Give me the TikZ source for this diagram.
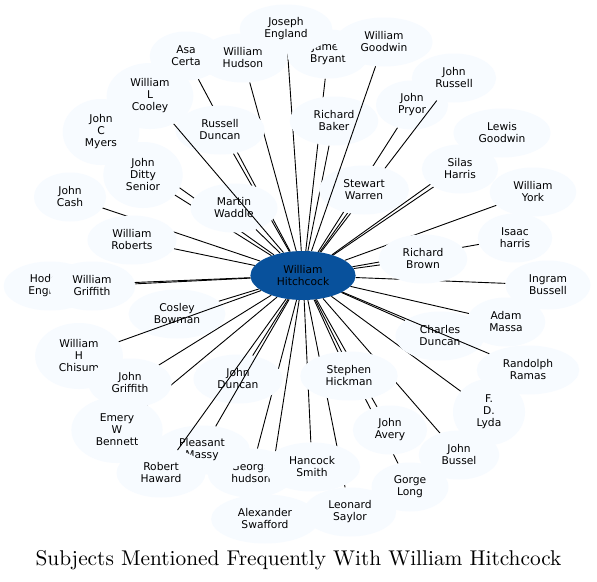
\documentclass[tikz,border=0pt]{standalone}
\usepackage{fontspec}
\newfontfamily\dejavu{DejaVu Sans}
\newfontfamily\titlefont{lmroman10-regular.otf}
\usetikzlibrary{shapes.geometric}
\definecolor{nodefill}{HTML}{F7FBFF}
\definecolor{hubfill}{HTML}{08519C}
\tikzset{
  nd/.style={ellipse, inner xsep=11pt, inner ysep=0pt, minimum width=72pt,
    minimum height=49pt, align=center, font=\dejavu\fontsize{10.7}{12}\selectfont},
  three/.style={minimum height=66pt},
  edge/.style={draw=black, line width=0.9pt},
}
\newcommand\Nd[4][]{%
  \expandafter\gdef\csname ntxt#2\endcsname{#4}%
  \tikzset{nsty#2/.style={#1}}%
  \node[nd,#1,text opacity=0] (#2) at (#3) {#4};}
\newcommand\Vis[1]{\node[nd,fill=nodefill,nsty#1] at (#1) {\csname ntxt#1\endcsname};}
\begin{document}
\begin{tikzpicture}[x=1pt,y=-1pt]
\fill[white] (0,0) rectangle (597,581);
\useasboundingbox (0,0) rectangle (597,581);
% phantom nodes (named, for clipping)
\Nd{c}{303,275.5}{William\\Hitchcock}
\Nd{je}{286,29}{Joseph\\England}
\Nd{wg}{384,42}{William\\Goodwin}
\Nd{jb}{328,54}{James\\Bryant}
\Nd{ac}{186,56}{Asa\\Certa}
\Nd{wh}{243,58}{William\\Hudson}
\Nd{jr}{454,78}{John\\Russell}
\Nd[three]{wlc}{150,96}{William\\L\\Cooley}
\Nd{jp}{412,105}{John\\Pryor}
\Nd[three]{jcm}{101,132}{John\\C\\Myers}
\Nd{rb}{334,121}{Richard\\Baker}
\Nd{rd}{220,130}{Russell\\Duncan}
\Nd{lg}{502,133}{Lewis\\Goodwin}
\Nd[three]{jds}{143,175}{John\\Ditty\\Senior}
\Nd{sh}{460,169}{Silas\\Harris}
\Nd{sw}{364,190}{Stewart\\Warren}
\Nd{wy}{533,192}{William\\York}
\Nd{jc}{70,197}{John\\Cash}
\Nd{mw}{234,208}{Martin\\Waddle}
\Nd{wr}{132,240}{William\\Roberts}
\Nd{ih}{515,238}{Isaac\\harris}
\Nd{rbr}{423,259}{Richard\\Brown}
\Nd{he}{50,286}{Hodges\\England}
\Nd{wgr}{92,286}{William\\Griffith}
\Nd{ib}{548,285}{Ingram\\Bussell}
\Nd{cb}{177,314}{Cosley\\Bowman}
\Nd{am}{506,322}{Adam\\Massa}
\Nd{cd}{440,336}{Charles\\Duncan}
\Nd[three]{whc}{79,356}{William\\H\\Chisum}
\Nd{rr}{528,370}{Randolph\\Ramas}
\Nd{shi}{349,376}{Stephen\\Hickman}
\Nd{jdu}{238,379}{John\\Duncan}
\Nd{jg}{130,383}{John\\Griffith}
\Nd[three]{fdl}{489,412}{F.\\D.\\Lyda}
\Nd[three]{ewb}{117,430}{Emery\\W\\Bennett}
\Nd{ja}{390,430}{John\\Avery}
\Nd{pm}{202,450}{Pleasant\\Massy}
\Nd{jbu}{459,455}{John\\Bussel}
\Nd{hs}{312,467}{Hancock\\Smith}
\Nd{gh}{251,473}{George\\hudson}
\Nd{rha}{161,473}{Robert\\Haward}
\Nd{gl}{410,487}{Gorge\\Long}
\Nd{ls}{350,512}{Leonard\\Saylor}
\Nd{as}{265,519}{Alexander\\Swafford}
% edges lying under the nodes
\foreach \n in {je,jb,ac,wh,jp,jcm,rb,rd,lg,jds,sh,sw,wy,jc,mw,wr,ih,rbr,he,wgr,ib,cb,am,cd,jg,fdl,ewb,ja,jbu,hs,gh,gl,ls,as,shi,jdu}
  \draw[edge] (c) -- (\n);
% visible nodes
\Vis{he}\Vis{wgr}\Vis{jb}\Vis{wh}\Vis{je}\Vis{wg}\Vis{wlc}\Vis{ac}
\Vis{jcm}\Vis{rb}\Vis{rd}\Vis{jr}\Vis{jp}\Vis{lg}\Vis{jds}\Vis{sh}
\Vis{wy}\Vis{jc}\Vis{mw}\Vis{wr}\Vis{ih}\Vis{rbr}\Vis{ib}\Vis{cb}
\Vis{am}\Vis{cd}\Vis{whc}\Vis{rr}\Vis{shi}\Vis{jdu}\Vis{jg}\Vis{fdl}
\Vis{ewb}\Vis{ja}\Vis{gh}\Vis{pm}\Vis{hs}\Vis{rha}\Vis{jbu}\Vis{gl}
\Vis{ls}\Vis{as}
\draw[edge] (c) -- (jr);
\Vis{sw}
% edges lying over some nodes
\foreach \n in {wg,wlc,rr,pm,rha,whc}
  \draw[edge] (c) -- (\n);
\node[nd, fill=hubfill] at (c) {William\\Hitchcock};
\node[font=\titlefont\fontsize{21.35}{25}\selectfont, anchor=base, inner sep=0pt] (title) at (298.5,565)
  {Subjects Mentioned Frequently With William Hitchcock};
\end{tikzpicture}
\end{document}
